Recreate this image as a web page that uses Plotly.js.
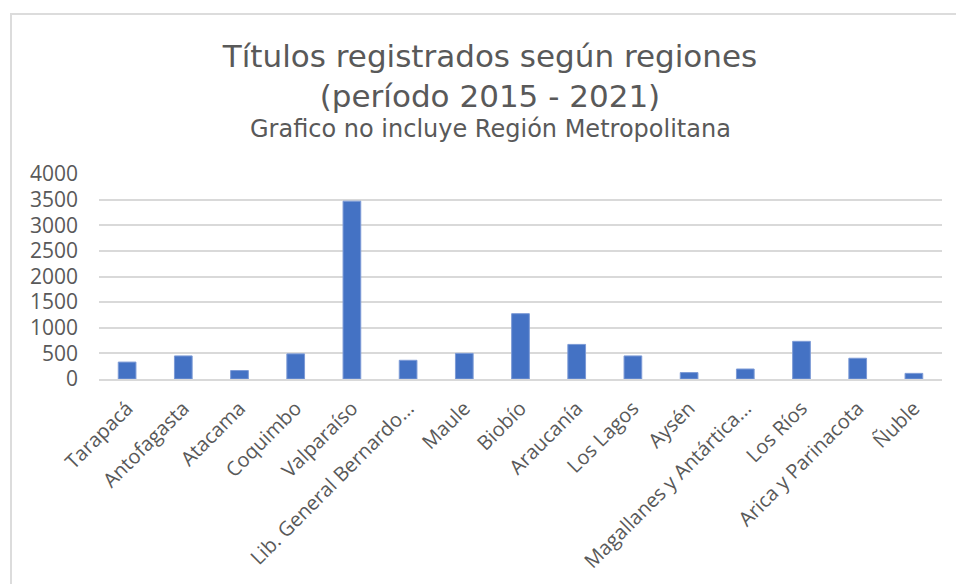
<!DOCTYPE html>
<html>
<head>
<meta charset="utf-8">
<script src="https://cdn.plot.ly/plotly-3.0.1.min.js"></script>
<style>
  html, body { margin: 0; padding: 0; background: #ffffff; overflow: hidden; }
  #chart { width: 956px; height: 584px; position: absolute; left: 0; top: 0; }
  #frame { position: absolute; left: 10px; top: 13px; width: 1000px; height: 700px;
           border: 2px solid #dcdcdc; pointer-events: none; box-sizing: border-box; }
</style>
</head>
<body>
<div id="chart"></div>
<div id="frame"></div>
<script>
const regions = [
  "Tarapacá", "Antofagasta", "Atacama", "Coquimbo", "Valparaíso",
  "Lib. General Bernardo...", "Maule", "Biobío", "Araucanía", "Los Lagos",
  "Aysén", "Magallanes y Antártica...", "Los Ríos", "Arica y Parinacota", "Ñuble"
];
const titulos = [330, 450, 165, 490, 3470, 365, 500, 1275, 675, 450, 125, 195, 735, 405, 110];
const yTicks = [0, 500, 1000, 1500, 2000, 2500, 3000, 3500, 4000];

const textColor = "#595959";
const gridColor = "#d9d9d9";

const trace = {
  type: "bar",
  x: regions,
  y: titulos,
  marker: { color: "#4472C4", line: { color: "#7c9ad6", width: 1 } },
  hoverinfo: "x+y"
};

const layout = {
  width: 956,
  height: 584,
  paper_bgcolor: "#ffffff",
  plot_bgcolor: "#ffffff",
  margin: { l: 99, r: 14, t: 174, b: 205 },
  bargap: 0.685,
  showlegend: false,
  title: {
    text: "Títulos registrados según regiones<br>(período 2015 - 2021)",
    font: { family: "DejaVu Sans, Verdana, sans-serif", size: 31, color: textColor },
    x: 490 / 956,
    xref: "container",
    xanchor: "center",
    y: 1 - 67 / 584,
    yref: "container",
    yanchor: "top"
  },
  annotations: [{
    text: "Grafico no incluye Región Metropolitana",
    xref: "paper", yref: "paper",
    x: (490 - 99) / 843, xanchor: "center",
    y: 1 + (174 - 145) / 205, yanchor: "bottom",
    showarrow: false,
    font: { family: "DejaVu Sans, Verdana, sans-serif", size: 24, color: textColor }
  }],
  xaxis: {
    type: "category",
    tickangle: -45,
    tickfont: { family: "Open Sans, Noto Sans, sans-serif", size: 20, color: textColor },
    showgrid: false,
    showline: true,
    linecolor: gridColor,
    linewidth: 1.5,
    ticks: "",
    ticklabelstandoff: 8,
    automargin: false
  },
  yaxis: {
    range: [0, 4000],
    tickvals: yTicks,
    ticktext: yTicks.map(String),
    tickfont: { family: "Open Sans, Noto Sans, sans-serif", size: 21, color: textColor },
    showgrid: true,
    gridcolor: gridColor,
    gridwidth: 1.5,
    zeroline: false,
    showline: false,
    ticks: "",
    ticklabelstandoff: 20,
    automargin: false
  }
};

Plotly.newPlot("chart", [trace], layout, { displayModeBar: false, responsive: false });
</script>
</body>
</html>
